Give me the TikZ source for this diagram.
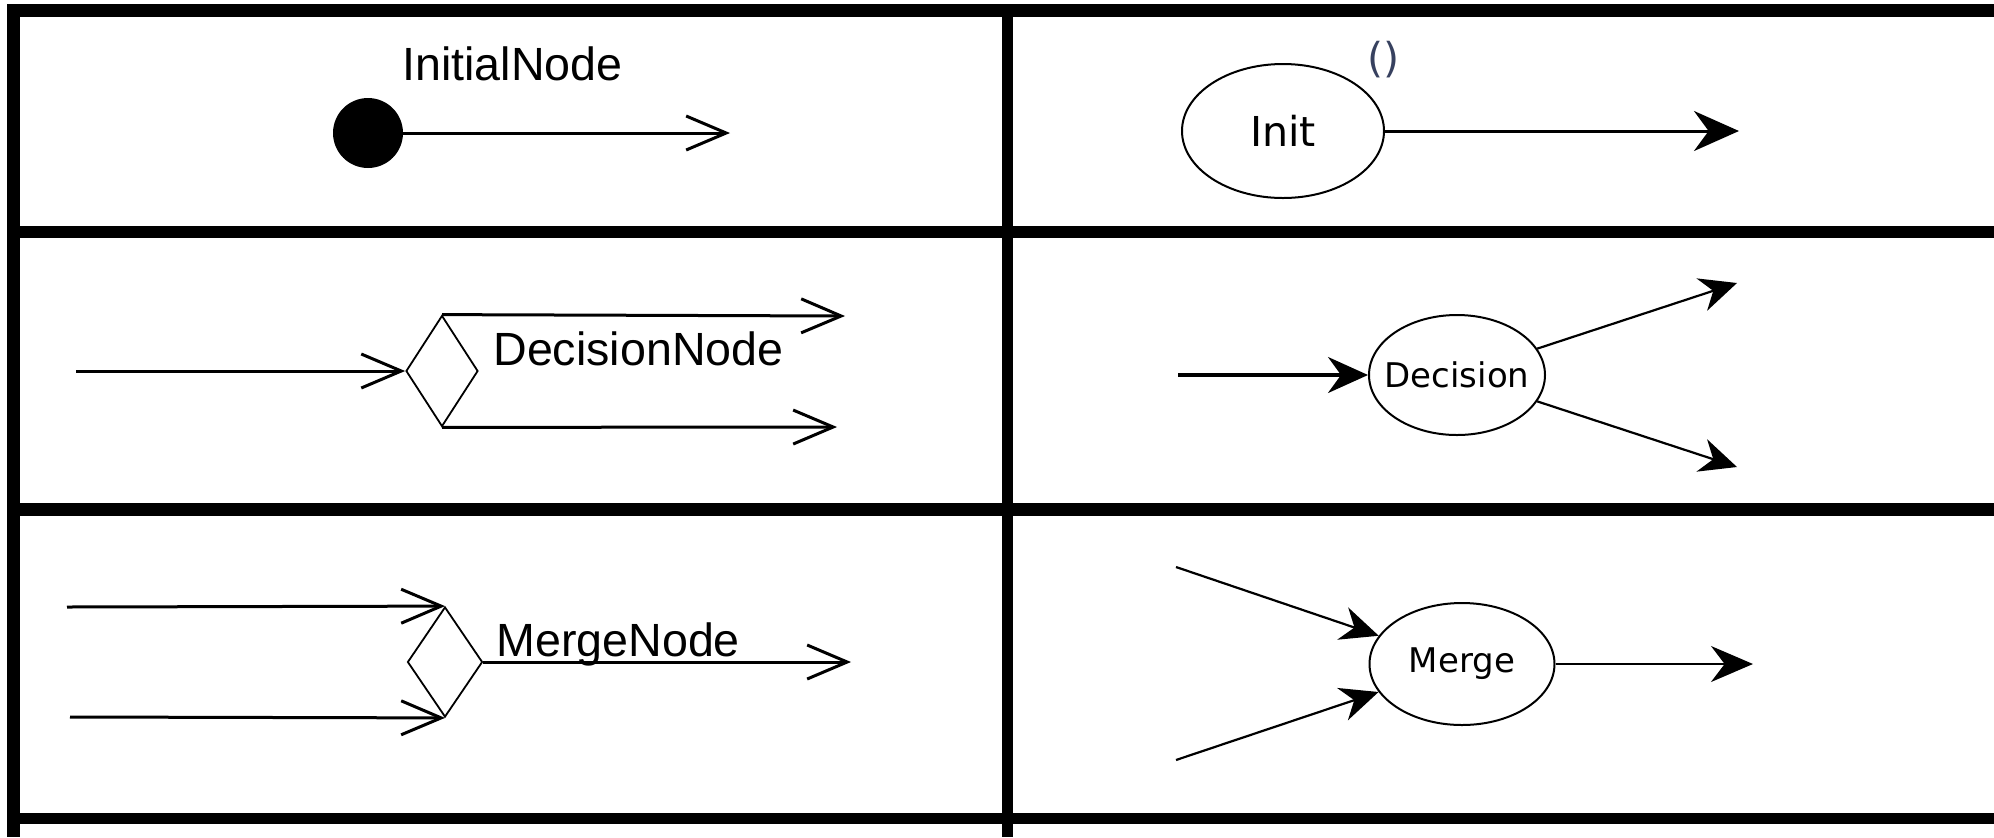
\documentclass[tikz,border=0pt]{standalone}
\usepackage{fontspec}
\setmainfont{Liberation Sans}
\newfontfamily\dvfont{DejaVu Sans}
\usetikzlibrary{arrows.meta,shapes.geometric}
\definecolor{parencol}{RGB}{55,65,95}
\tikzset{
  rulebar/.style={fill=black},
  umllabel/.style={anchor=base west, inner sep=0pt, font=\fontsize{23.3pt}{28pt}\selectfont},
  openarrow/.style={line width=1.5pt, -{Straight Barb[length=20pt,width=17pt]}},
  diam/.style={diamond, draw, line width=0.9pt, inner sep=0pt, fill=white},
  initdot/.style={circle, fill=black, inner sep=0pt, minimum size=35pt},
  oval/.style={ellipse, draw, line width=1pt, inner sep=0pt, font=\dvfont\fontsize{17pt}{20pt}\selectfont},
  solidarrow/.style={line width=1.1pt, -{Stealth[length=19pt,width=17pt]}},
}
\begin{document}
\begin{tikzpicture}[x=0.5pt,y=-0.5pt]
\useasboundingbox (0,0) rectangle (1994,837);
% table rules
\fill[rulebar] (7,4) rectangle (1994,17);
\fill[rulebar] (7,4) rectangle (20,837);
\fill[rulebar] (1002,4) rectangle (1013,837);
\fill[rulebar] (7,226) rectangle (1994,238);
\fill[rulebar] (7,503) rectangle (1994,516);
\fill[rulebar] (7,813) rectangle (1994,824);

% ---- left column, row 1: InitialNode
\node[umllabel] (initlbl) at (402,80) {InitialNode};
\node[initdot] (ini) at (368,133) {};
\coordinate (iniEnd) at (730,133);
\draw[openarrow] (ini) -- (iniEnd);

% ---- left column, row 2: DecisionNode
\node[diam, minimum width=36pt, minimum height=55.5pt] (dn) at (442,371) {};
\coordinate (dnIn) at (76,371);
\coordinate (dnOutA) at (845,316);
\coordinate (dnOutB) at (837,427);
\draw[openarrow] (dnIn) -- (dn.west);
\draw[openarrow] (dn.north) -- (dnOutA);
\draw[openarrow] (dn.south) -- (dnOutB);
\node[umllabel] (declbl) at (493,365) {DecisionNode};

% ---- left column, row 3: MergeNode
\node[diam, minimum width=37.5pt, minimum height=55pt] (mn) at (445,662) {};
\coordinate (mnInA) at (67,607);
\coordinate (mnInB) at (70,717);
\coordinate (mnOut) at (851,662);
\draw[openarrow] (mnInA) -- (mn.north);
\draw[openarrow] (mnInB) -- (mn.south);
\draw[openarrow] (mn.east) -- (mnOut);
\node[umllabel] (mrglbl) at (496,656) {MergeNode};

% ---- right column, row 1: Init
\node[oval, minimum width=101pt, minimum height=67pt, font=\dvfont\fontsize{20.6pt}{24pt}\selectfont] (init) at (1283,131) {\makebox[0pt]{Init}};
\node[anchor=base west, inner sep=0pt, text=parencol, font=\dvfont\fontsize{20.6pt}{24pt}\selectfont] (paren) at (1367,72) {()};
\coordinate (initEnd) at (1739,131);
\draw[line width=1.5pt, -{Stealth[length=22.5pt,width=20pt]}] (init) -- (initEnd);

% ---- right column, row 2: Decision
\node[oval, minimum width=88pt, minimum height=60pt] (dec) at (1457,375) {\makebox[0pt]{Decision}};
\coordinate (decIn) at (1178,375);
\coordinate (decOutA) at (1737,283);
\coordinate (decOutB) at (1737,467);
\draw[line width=1.6pt, -{Stealth[length=20pt,width=18pt]}] (decIn) -- (dec);
\draw[solidarrow, -{Stealth[length=18.5pt,width=17pt]}] (dec) -- (decOutA);
\draw[solidarrow, -{Stealth[length=18.5pt,width=17pt]}] (dec) -- (decOutB);

% ---- right column, row 3: Merge
\node[oval, minimum width=92.5pt, minimum height=61pt] (mrg) at (1462,664) {\makebox[0pt]{Merge}};
\coordinate (mrgInA) at (1176,567);
\coordinate (mrgInB) at (1176,760);
\coordinate (mrgOut) at (1753,664);
\draw[solidarrow] (mrgInA) -- (mrg);
\draw[solidarrow] (mrgInB) -- (mrg);
\draw[line width=1pt, -{Stealth[length=21pt,width=18pt]}] (mrg) -- (mrgOut);
\end{tikzpicture}
\end{document}
